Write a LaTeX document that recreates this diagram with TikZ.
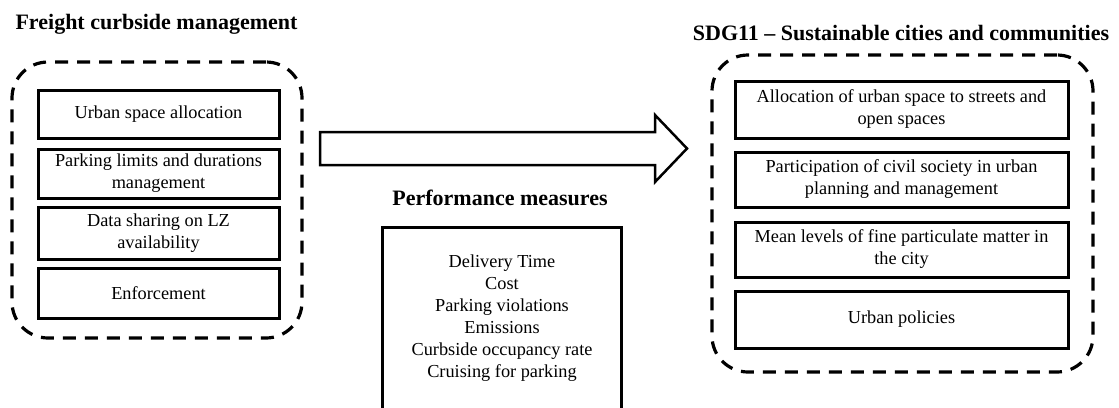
\documentclass[tikz,border=0pt]{standalone}
\usepackage{fontspec}
\setmainfont{Liberation Serif}
\usetikzlibrary{calc}
\begin{document}
\begin{tikzpicture}[x=1pt,y=-1pt,
  item/.style={draw, line width=3pt, inner sep=0pt, align=center,
    font=\fontsize{18.3}{22}\selectfont},
  group/.style={draw, dash pattern=on 13pt off 9pt, line width=3.2pt,
    rounded corners=36pt, inner sep=0pt},
  heading/.style={font=\fontsize{22}{26}\selectfont\bfseries, inner sep=0pt, anchor=base},
  bigarrow/.style={draw, line width=2.5pt, line join=miter},
]
\clip (0,0) rectangle (1119,407);

% Freight curbside management
\node[heading] (ltitle) at (156.5,29.5) {Freight curbside management};
\node[group, minimum width=290pt, minimum height=276pt] (lgroup) at (157,200) {};
\node[item, minimum width=241pt, minimum height=48pt] (l1) at (158.5,114) {Urban space allocation};
\node[item, minimum width=241pt, minimum height=49pt] (l2) at (158.5,173.5) {Parking limits and durations\\management};
\node[item, minimum width=241pt, minimum height=52pt] (l3) at (158.5,233) {Data sharing on LZ\\availability};
\node[item, minimum width=241pt, minimum height=50pt] (l4) at (158.5,293) {Enforcement};

% SDG11
\node[heading] (rtitle) at (901,40) {SDG11 \textendash\ Sustainable cities and communities};
\node[group, minimum width=381pt, minimum height=317pt] (rgroup) at (902.5,213.5) {};
\node[item, minimum width=333pt, minimum height=57pt] (r1) at (901.5,109.5) {Allocation of urban space to streets and\\open spaces};
\node[item, minimum width=333pt, minimum height=55pt] (r2) at (901.5,179.5) {Participation of civil society in urban\\planning and management};
\node[item, minimum width=333pt, minimum height=55pt] (r3) at (901.5,249.5) {Mean levels of fine particulate matter in\\the city};
\node[item, minimum width=333pt, minimum height=57pt] (r4) at (901.5,319.5) {Urban policies};

% Block arrow between the two groups
\coordinate (atail) at (320,148.5);
\coordinate (atip) at (687,148.5);
\draw[bigarrow] ($(atail)+(0,-16.5)$) -- ($(atip)+(-32,-16.5)$) -- ($(atip)+(-32,-33.5)$)
  -- (atip) -- ($(atip)+(-32,33.5)$) -- ($(atip)+(-32,16.5)$) -- ($(atail)+(0,16.5)$) -- cycle;

% Performance measures
\node[heading] (ptitle) at (500,205) {Performance measures};
\node[draw, line width=3pt, minimum width=239pt, minimum height=200pt, inner sep=0pt] (pbox) at (501.5,327) {};
\node[align=center, inner sep=0pt, font=\fontsize{18.3}{22}\selectfont] (plist) at (502,318)
  {Delivery Time\\Cost\\Parking violations\\Emissions\\Curbside occupancy rate\\Cruising for parking};
\end{tikzpicture}
\end{document}
